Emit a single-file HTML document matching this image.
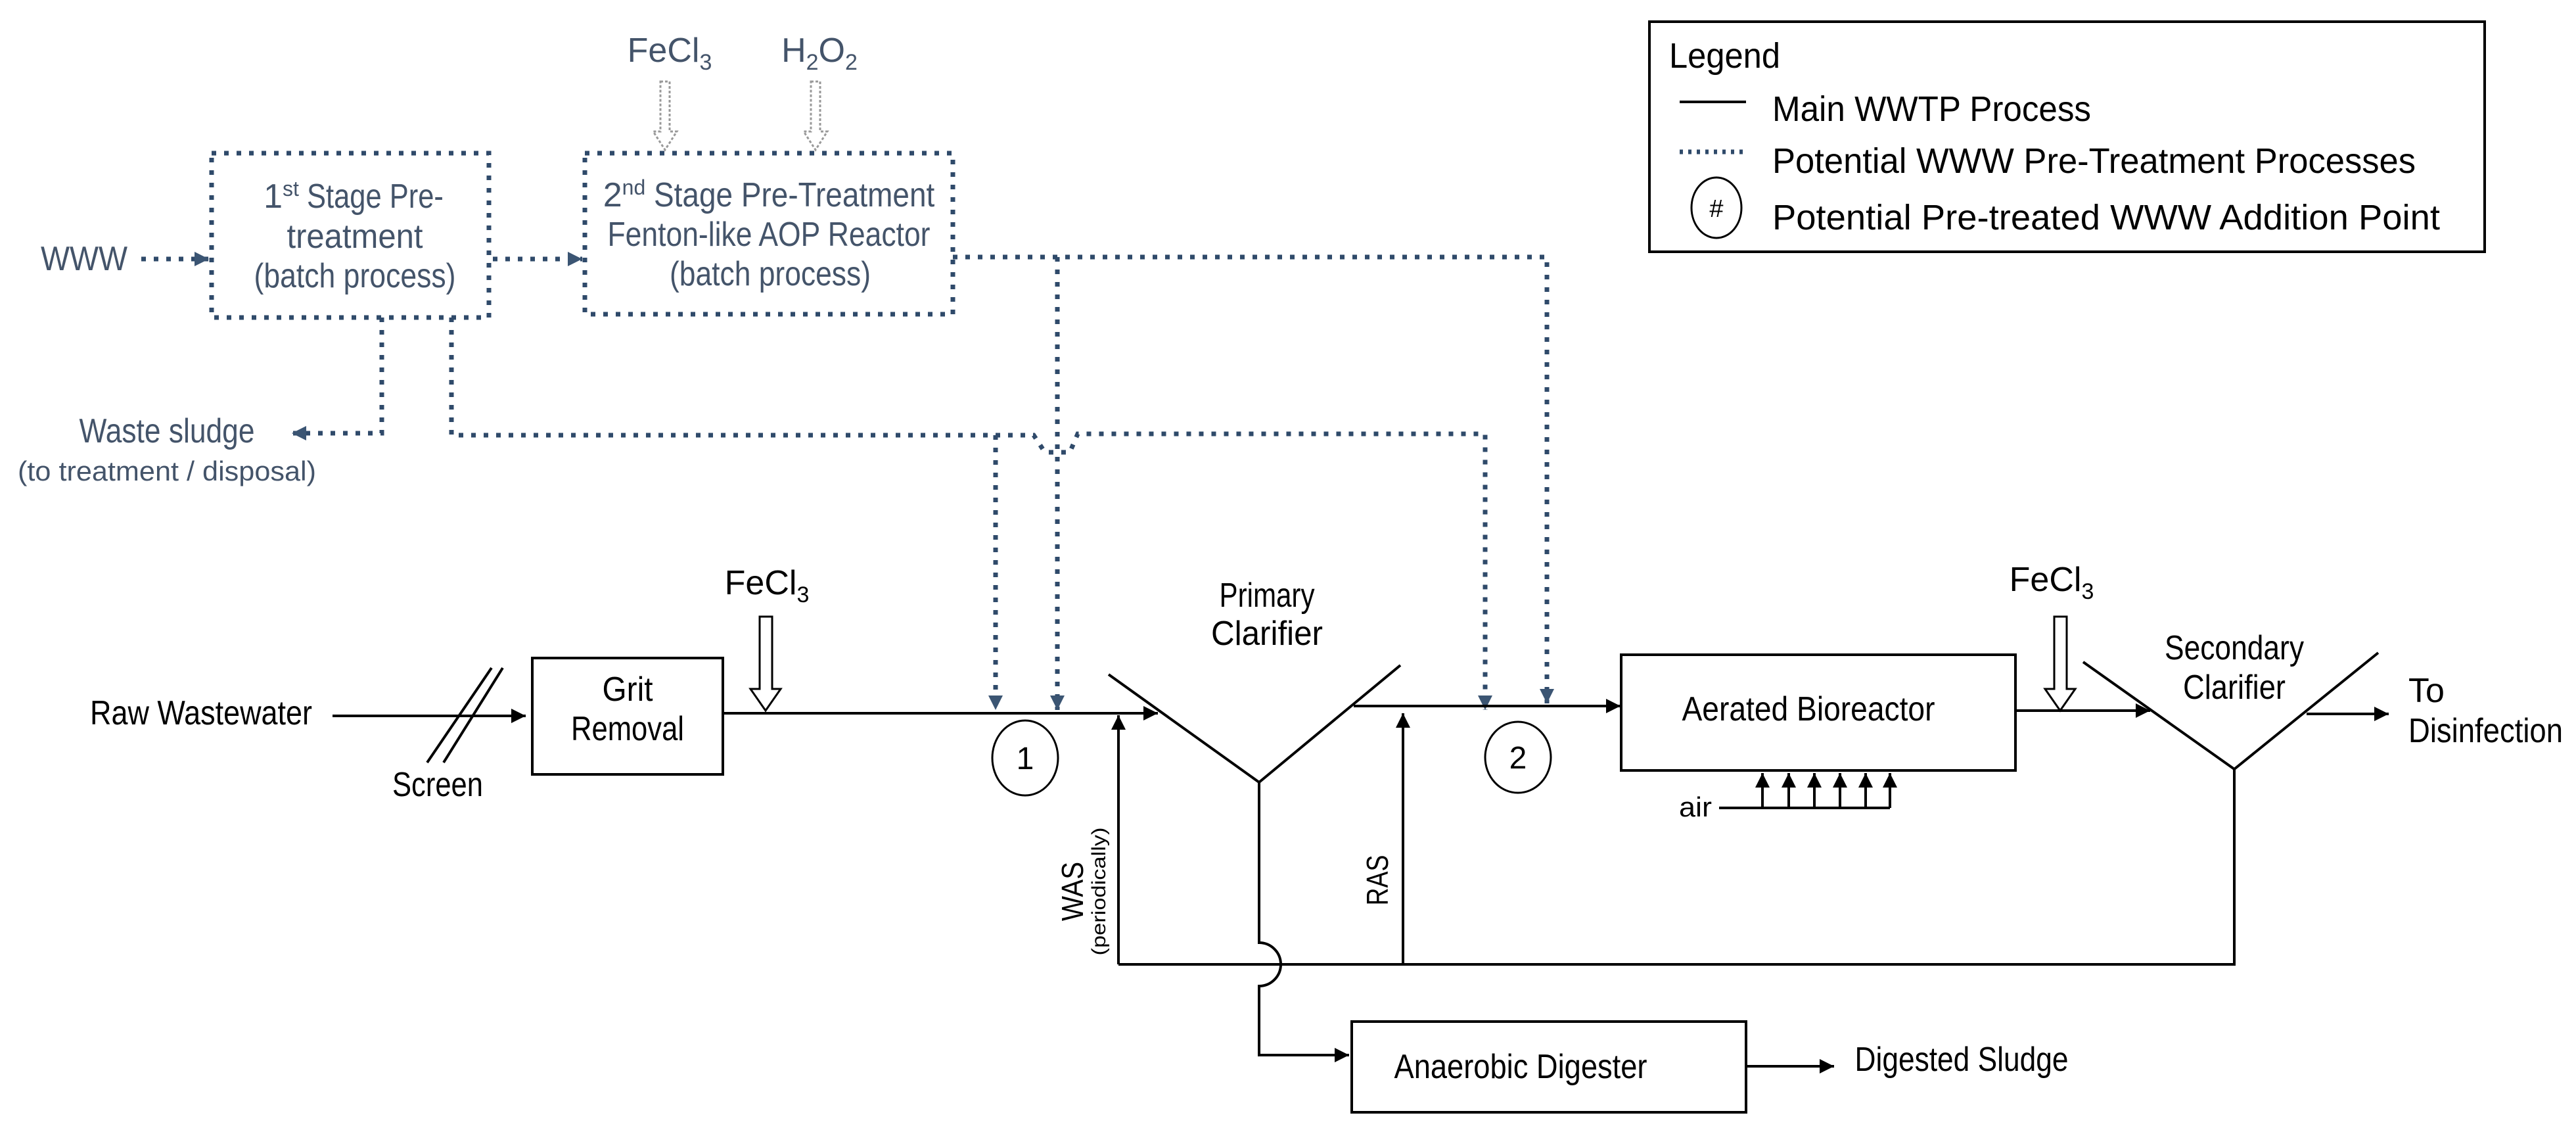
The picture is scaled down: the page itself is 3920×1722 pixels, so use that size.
<!DOCTYPE html>
<html><head><meta charset="utf-8"><style>html,body{margin:0;padding:0;background:#fff}svg{display:block}</style></head>
<body>
<svg width="3920" height="1722" viewBox="0 0 3920 1722" xmlns="http://www.w3.org/2000/svg" font-family="'Liberation Sans', sans-serif">
<defs>
<marker id="ak" viewBox="0 0 10 10" refX="10" refY="5" markerWidth="22" markerHeight="26" orient="auto" markerUnits="userSpaceOnUse"><path d="M0,0 L10,5 L0,10 z" fill="#000"/></marker>
<marker id="ad" viewBox="0 0 10 10" refX="10" refY="5" markerWidth="22" markerHeight="22" orient="auto" markerUnits="userSpaceOnUse"><path d="M0,0 L10,5 L0,10 z" fill="#3b5573"/></marker>
</defs>

<g fill="none" stroke="#2f4a6a" stroke-width="7" stroke-dasharray="7 12">
<rect x="322" y="233" width="422" height="250"/>
<rect x="890" y="233" width="560" height="245"/>
<path d="M215,394 L318,394" marker-end="url(#ad)"/>
<path d="M750,394 L886,394" marker-end="url(#ad)"/>
<path d="M1450,391 L2354,391 L2354,1070" marker-end="url(#ad)"/>
<path d="M1609,391 L1609,1080" marker-end="url(#ad)"/>
<path d="M581,483 L581,659 L444,659" marker-end="url(#ad)"/>
<path d="M687,483 L687,662 L1573,662 L1590,688 L1628,688 L1640,660 L2260,660 L2260,1080" marker-end="url(#ad)"/>
<path d="M1515,662 L1515,1080" marker-end="url(#ad)"/>
</g>

<g fill="#fff" stroke="#999" stroke-width="3" stroke-dasharray="4 3">
<path d="M1005,124 L1019,124 L1019,200 L1030,200 L1012,228 L994,200 L1005,200 z"/>
<path d="M1234,124 L1248,124 L1248,200 L1259,200 L1241,228 L1223,200 L1234,200 z"/>
</g>

<g fill="none" stroke="#000" stroke-width="4">
<path d="M506,1089 L800,1089" marker-end="url(#ak)"/>
<line x1="650" y1="1160" x2="748" y2="1016"/>
<line x1="675" y1="1160" x2="765" y2="1016"/>
<rect x="810" y="1001" width="290" height="177"/>
<path d="M1100,1085 L1762,1085" marker-end="url(#ak)"/>
<path d="M1687,1026 L1916,1190 L2131,1012"/>
<path d="M1916,1190 L1916,1434 A33,33 0 0 1 1916,1500 L1916,1605 L2053,1605" marker-end="url(#ak)"/>
<path d="M1702,1467 L3400,1467 L3400,1170" />
<path d="M1702,1467 L1702,1088" marker-end="url(#ak)"/>
<path d="M2135,1467 L2135,1085" marker-end="url(#ak)"/>
<rect x="2057" y="1554" width="600" height="138"/>
<path d="M2657,1622 L2791,1622" marker-end="url(#ak)"/>
<path d="M2060,1074 L2466,1074" marker-end="url(#ak)"/>
<rect x="2467" y="996" width="600" height="176"/>
<path d="M2616,1229 L2876,1229"/>
<path d="M3067,1081 L3272,1081" marker-end="url(#ak)"/>
<path d="M3170,1007 L3400,1170 L3619,993"/>
<path d="M3510,1086 L3635,1086" marker-end="url(#ak)"/>
<path d="M2682,1229 L2682,1176" marker-end="url(#ak)"/>
<path d="M2722,1229 L2722,1176" marker-end="url(#ak)"/>
<path d="M2761,1229 L2761,1176" marker-end="url(#ak)"/>
<path d="M2800,1229 L2800,1176" marker-end="url(#ak)"/>
<path d="M2839,1229 L2839,1176" marker-end="url(#ak)"/>
<path d="M2876,1229 L2876,1176" marker-end="url(#ak)"/>
</g>
<g fill="#fff" stroke="#000" stroke-width="3">
<path d="M1156,938 L1175,938 L1175,1048 L1188,1048 L1165,1081 L1142,1048 L1156,1048 z"/>
<path d="M3126,938 L3145,938 L3145,1048 L3158,1048 L3135,1081 L3112,1048 L3126,1048 z"/>
</g>
<g fill="none" stroke="#000" stroke-width="3">
<ellipse cx="1560" cy="1153" rx="50" ry="57"/>
<ellipse cx="2310" cy="1152" rx="50" ry="54"/>
</g>

<g fill="#44546a" font-size="52" text-anchor="middle">
<text x="1019" y="94">FeCl<tspan font-size="34" dy="12">3</tspan></text>
<text x="1247" y="94">H<tspan font-size="34" dy="12">2</tspan><tspan dy="-12">O</tspan><tspan font-size="34" dy="12">2</tspan></text>
<text x="538" y="316">1<tspan font-size="32" dy="-18">st</tspan><tspan dy="18" textLength="220" lengthAdjust="spacingAndGlyphs"> Stage Pre-</tspan></text>
<text x="540" y="377" textLength="207" lengthAdjust="spacingAndGlyphs">treatment</text>
<text x="540" y="437" textLength="307" lengthAdjust="spacingAndGlyphs">(batch process)</text>
<text x="1170" y="314">2<tspan font-size="32" dy="-18">nd</tspan><tspan dy="18" textLength="440" lengthAdjust="spacingAndGlyphs"> Stage Pre-Treatment</tspan></text>
<text x="1170" y="374" textLength="491" lengthAdjust="spacingAndGlyphs">Fenton-like AOP Reactor</text>
<text x="1172" y="434" textLength="306" lengthAdjust="spacingAndGlyphs">(batch process)</text>
<text x="128" y="411" textLength="132" lengthAdjust="spacingAndGlyphs">WWW</text>
<text x="254" y="673" textLength="267" lengthAdjust="spacingAndGlyphs">Waste sludge</text>
<text x="254" y="731" font-size="42" textLength="454" lengthAdjust="spacingAndGlyphs">(to treatment / disposal)</text>
</g>

<g fill="#000" font-size="52" text-anchor="middle">
<text x="306" y="1102" textLength="338" lengthAdjust="spacingAndGlyphs">Raw Wastewater</text>
<text x="666" y="1211" textLength="138" lengthAdjust="spacingAndGlyphs">Screen</text>
<text x="955" y="1066" textLength="77" lengthAdjust="spacingAndGlyphs">Grit</text>
<text x="955" y="1126" textLength="172" lengthAdjust="spacingAndGlyphs">Removal</text>
<text x="1167" y="904">FeCl<tspan font-size="34" dy="12">3</tspan></text>
<text x="3122" y="899">FeCl<tspan font-size="34" dy="12">3</tspan></text>
<text x="1928" y="923" textLength="145" lengthAdjust="spacingAndGlyphs">Primary</text>
<text x="1928" y="981" textLength="170" lengthAdjust="spacingAndGlyphs">Clarifier</text>
<text x="1560" y="1170" font-size="48">1</text>
<text x="2310" y="1169" font-size="48">2</text>
<text x="2752" y="1096" textLength="385" lengthAdjust="spacingAndGlyphs">Aerated Bioreactor</text>
<text x="2580" y="1242" font-size="42" textLength="50" lengthAdjust="spacingAndGlyphs">air</text>
<text x="3400" y="1003" textLength="212" lengthAdjust="spacingAndGlyphs">Secondary</text>
<text x="3400" y="1063" textLength="156" lengthAdjust="spacingAndGlyphs">Clarifier</text>
<text x="3665" y="1068" text-anchor="start">To</text>
<text x="3665" y="1129" text-anchor="start" textLength="235" lengthAdjust="spacingAndGlyphs">Disinfection</text>
<text x="2314" y="1640" textLength="385" lengthAdjust="spacingAndGlyphs">Anaerobic Digester</text>
<text x="2985" y="1629" textLength="325" lengthAdjust="spacingAndGlyphs">Digested Sludge</text>
<text transform="translate(1648,1356) rotate(-90)" font-size="46" textLength="90" lengthAdjust="spacingAndGlyphs">WAS</text>
<text transform="translate(1682,1356) rotate(-90)" font-size="30" textLength="195" lengthAdjust="spacingAndGlyphs">(periodically)</text>
<text transform="translate(2112,1339) rotate(-90)" font-size="46" textLength="77" lengthAdjust="spacingAndGlyphs">RAS</text>
</g>

<rect x="2510" y="33" width="1271" height="350" fill="none" stroke="#000" stroke-width="4"/>
<line x1="2556" y1="155" x2="2657" y2="155" stroke="#000" stroke-width="4"/>
<line x1="2556" y1="231" x2="2657" y2="231" stroke="#2f4a6a" stroke-width="7" stroke-dasharray="5 8"/>
<ellipse cx="2612" cy="316" rx="38" ry="46" fill="none" stroke="#000" stroke-width="3"/>
<g fill="#000" font-size="54">
<text x="2540" y="103" textLength="169" lengthAdjust="spacingAndGlyphs">Legend</text>
<text x="2697" y="184" textLength="485" lengthAdjust="spacingAndGlyphs">Main WWTP Process</text>
<text x="2697" y="263" textLength="979" lengthAdjust="spacingAndGlyphs">Potential WWW Pre-Treatment Processes</text>
<text x="2697" y="349" textLength="1016" lengthAdjust="spacingAndGlyphs">Potential Pre-treated WWW Addition Point</text>
<text x="2612" y="330" font-size="38" text-anchor="middle">#</text>
</g>
</svg>
</body></html>
